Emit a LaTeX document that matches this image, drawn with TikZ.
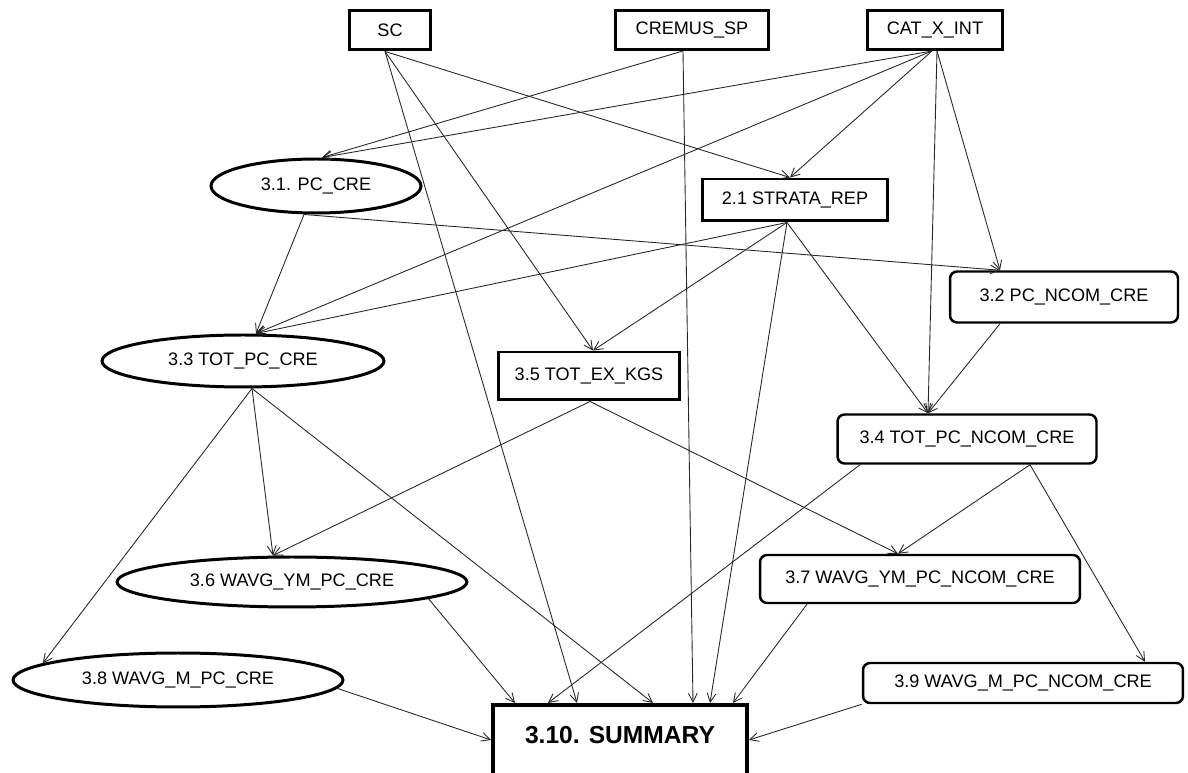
\documentclass[tikz,border=0pt]{standalone}
\usepackage{fontspec}
\setmainfont{Liberation Sans}
\usetikzlibrary{calc,shapes.geometric,arrows.meta}

\tikzset{
	boxnode/.style={draw, line width=1.7pt, inner sep=0pt, font=\fontsize{10.3}{12}\selectfont},
	ovalnode/.style={draw, ellipse, line width=1.7pt, inner sep=0pt, font=\fontsize{10.3}{12}\selectfont},
	roundnode/.style={draw, rounded corners=4pt, line width=1.4pt, inner sep=0pt, font=\fontsize{10.3}{12}\selectfont},
	edge/.style={draw=black!85, line width=0.5pt, -{Straight Barb[length=5pt, width=5pt]}}
}

\begin{document}
\begin{tikzpicture}[x=0.02cm, y=-0.02cm]
		%%%%% START %%%%%
		\useasboundingbox (0,0) rectangle (1188,773);
		
		% inputs
		\node[boxnode, line width=2.2pt, minimum width=1.62cm, minimum height=0.78cm] (sc) at (390,30) {SC};
		\node[boxnode, minimum width=3.06cm, minimum height=0.78cm] (cremus) at (692,30) {CREMUS\_SP};
		\node[boxnode, minimum width=2.7cm, minimum height=0.78cm] (cat) at (935,30) {CAT\_X\_INT};
		
		\node[ovalnode, minimum width=4.2cm, minimum height=1.08cm] (pc) at (316,186) {3.1. PC\_CRE};
		\node[boxnode, minimum width=3.72cm, minimum height=0.84cm] (strata) at (795,200) {2.1 STRATA\_REP};
		\node[roundnode, minimum width=4.56cm, minimum height=1.02cm] (pcn) at (1064,297) {3.2 PC\_NCOM\_CRE};
		
		\node[ovalnode, minimum width=5.64cm, minimum height=1.04cm] (totpc) at (243,361) {3.3 TOT\_PC\_CRE};
		\node[boxnode, minimum width=3.64cm, minimum height=0.96cm] (totex) at (589,376) {3.5 TOT\_EX\_KGS};
		\node[roundnode, minimum width=5.18cm, minimum height=0.98cm] (totpcn) at (967,439) {3.4 TOT\_PC\_NCOM\_CRE};
		
		\node[ovalnode, minimum width=7cm, minimum height=1cm] (ym) at (292,582) {3.6 WAVG\_YM\_PC\_CRE};
		\node[roundnode, minimum width=6.4cm, minimum height=0.96cm] (ymn) at (920,579) {3.7 WAVG\_YM\_PC\_NCOM\_CRE};
		\node[ovalnode, minimum width=6.6cm, minimum height=1.08cm] (mpc) at (178,680) {3.8 WAVG\_M\_PC\_CRE};
		\node[roundnode, minimum width=6.4cm, minimum height=0.8cm] (mpcn) at (1023,683) {3.9 WAVG\_M\_PC\_NCOM\_CRE};
		
		\node[boxnode, line width=2.2pt, anchor=north, minimum width=5.08cm, text height=0.78cm, text depth=1.2cm,
			font=\fontsize{14}{16}\selectfont\bfseries] (summary) at (620,703) {3.10. SUMMARY};
		
		% from SC
		\draw[edge] ($(sc.south)+(-5,0)$) -- ($(strata.north)+(-5,0)$);
		\draw[edge] ($(sc.south)+(-5,0)$) -- ($(totex.north)+(4,0)$);
		\draw[edge] ($(sc.south)+(-5,0)$) -- ($(summary.north)+(-43,0)$);
		
		% from CREMUS_SP
		\draw[edge] ($(cremus.south)+(-9,0)$) -- ($(pc.north)+(6,0)$);
		\draw[edge] ($(cremus.south)+(-9,0)$) -- ($(summary.north)+(73,0)$);
		
		% from CAT_X_INT
		\draw[edge] ($(cat.south)+(-3,0)$) -- ($(pc.north)+(6,0)$);
		\draw[edge] ($(cat.south)+(-3,0)$) -- ($(strata.north)+(-5,0)$);
		\draw[edge] ($(cat.south)+(-3,0)$) -- ($(totpc.north)+(13,0)$);
		\draw[edge] ($(cat.south)+(2,0)$) -- ($(totpcn.north)+(-39,0)$);
		\draw[edge] ($(cat.south)+(2,0)$) -- ($(pcn.north)+(-64,0)$);
		
		% from 3.1 and 2.1
		\draw[edge] ($(pc.south)+(-12,0)$) -- ($(totpc.north)+(13,0)$);
		\draw[edge] ($(pc.south)+(-12,0)$) -- ($(pcn.north)+(-64,0)$);
		\draw[edge] ($(strata.south)+(-8,0)$) -- ($(totpc.north)+(13,0)$);
		\draw[edge] ($(strata.south)+(-8,0)$) -- ($(totex.north)+(4,0)$);
		\draw[edge] ($(strata.south)+(-8,0)$) -- ($(totpcn.north)+(-39,0)$);
		\draw[edge] ($(strata.south)+(-8,0)$) -- ($(summary.north)+(90,0)$);
		\draw[edge] ($(pcn.south)+(-64,0)$) -- ($(totpcn.north)+(-39,0)$);
		
		% from 3.3, 3.5 and 3.4
		\draw[edge] ($(totpc.south)+(9,0)$) -- ($(ym.north)+(-19,0)$);
		\draw[edge] ($(totpc.south)+(9,0)$) -- (mpc.173);
		\draw[edge] ($(totpc.south)+(9,0)$) -- ($(summary.north)+(33,0)$);
		\draw[edge] ($(totex.south)+(1,0)$) -- ($(ym.north)+(-19,0)$);
		\draw[edge] ($(totex.south)+(1,0)$) -- ($(ymn.north)+(-22,0)$);
		\draw[edge] ($(totpcn.south)+(63,0)$) -- ($(ymn.north)+(-22,0)$);
		\draw[edge] ($(totpcn.south)+(63,0)$) -- ($(mpcn.north)+(122,0)$);
		\draw[edge] ($(totpcn.south)+(-107,0)$) -- ($(summary.north)+(-72,0)$);
		
		% into SUMMARY
		\draw[edge] (ym.-7) -- ($(summary.north)+(-105,0)$);
		\draw[edge] ($(ymn.south)+(-113,0)$) -- ($(summary.north)+(113,0)$);
		\draw[edge] (mpc.-3) -- ($(summary.north west)+(0,37)$);
		\draw[edge] (mpcn.south west) -- ($(summary.north east)+(0,37)$);
		
		%%%%% END %%%%%
\end{tikzpicture}
\end{document}
